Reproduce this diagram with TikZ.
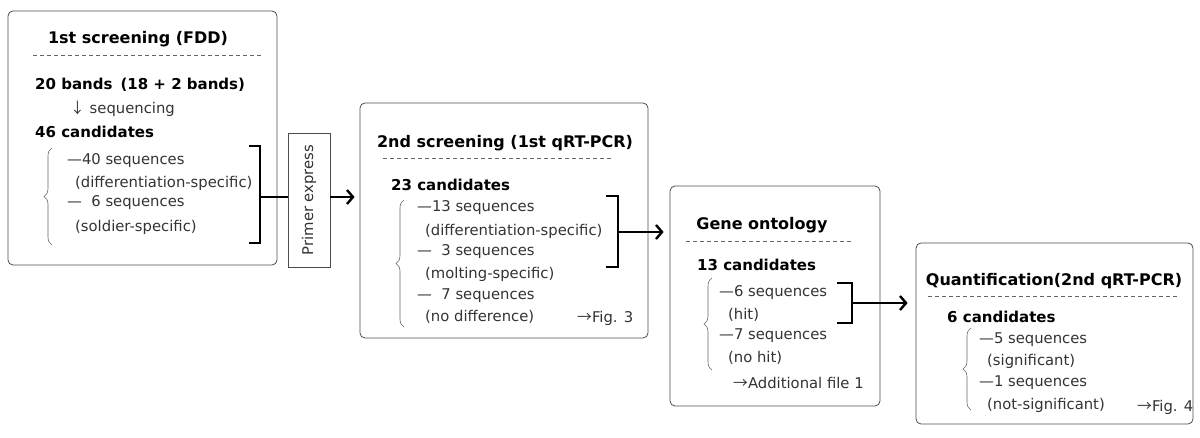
\documentclass[tikz,border=0pt]{standalone}
\usepackage{fontspec}
\setmainfont{DejaVu Sans}
\newfontfamily\cjk{Noto Sans CJK JP}
\usetikzlibrary{arrows.meta,decorations.pathreplacing}

\begin{document}
\begin{tikzpicture}[x=1pt,y=-1pt,
	panel/.style={draw=black!70,line width=0.8pt,rounded corners=5pt,inner sep=0pt},
	head/.style={inner sep=0pt,font=\fontsize{16}{19}\selectfont\bfseries},
	count/.style={anchor=west,inner sep=0pt,font=\fontsize{15}{18}\selectfont\bfseries},
	item/.style={anchor=west,inner sep=0pt,text=black!80,font=\fontsize{14.8}{17}\selectfont},
	rule/.style={draw=black!60,line width=0.9pt,dash pattern=on 4pt off 3pt},
	curly/.style={draw=black!60,line width=0.6pt,decorate,decoration={brace,amplitude=8pt}},
	bracket/.style={line width=2.4pt},
	flow/.style={line width=2.4pt,-{Straight Barb[length=6pt,width=14pt]}}]
\useasboundingbox (0,0) rectangle (1200,438);

% 1st screening
\node[panel,minimum width=269pt,minimum height=254pt] (b1) at (142.5,138) {};
\node[head] (h1) at (138,39) {1st screening (FDD)};
\draw[rule] (33,55) -- (261,55);
\node[count] (n1) at (35,85) {20 bands\hspace{8pt}(18 + 2 bands)};
\node[item] (q1) at (70,109) {{\cjk ↓} sequencing};
\node[count] (c1) at (35,132) {46 candidates};
\node[item] (s1a) at (67,161) {—40 sequences};
\node[item] (s1b) at (75,183) {(differentiation-specific)};
\node[item] (s1c) at (67,203) {—\phantom{4}6 sequences};
\node[item] (s1d) at (75,227) {(soldier-specific)};
\draw[curly] (52,245) -- (52,148);
\draw[bracket] (249,146) -- (260,146) -- (260,243) -- (249,243);
\coordinate (k1) at (260,197);

% primer
\node[draw=black!70,line width=0.8pt,minimum width=42pt,minimum height=134pt,inner sep=0pt] (pr) at (309,200) {};
\node[item,anchor=center,rotate=90] (pt) at (pr.center) {Primer express};
\draw[line width=2.4pt] (k1) -- (k1 -| pr.west);

% 2nd screening
\node[panel,minimum width=288pt,minimum height=235pt] (b2) at (504,220.5) {};
\draw[flow,shorten >=5pt] (k1 -| pr.east) -- (k1 -| b2.west);
\node[head] (h2) at (505,143) {2nd screening (1st qRT-PCR)};
\draw[rule] (383,158) -- (614,158);
\node[count] (c2) at (391,185) {23 candidates};
\node[item] (s2a) at (417,208) {—13 sequences};
\node[item] (s2b) at (425,231) {(differentiation-specific)};
\node[item] (s2c) at (417,252) {—\phantom{1}3 sequences};
\node[item] (s2d) at (425,274) {(molting-specific)};
\node[item] (s2e) at (417,296) {—\phantom{1}7 sequences};
\node[item] (s2f) at (425,317) {(no difference)};
\node[item] (f2) at (577,318) {{\cjk →}Fig. 3};
\draw[curly] (404,327) -- (404,200);
\draw[bracket] (606,196) -- (618,196) -- (618,267) -- (606,267);
\coordinate (k2) at (618,232);

% gene ontology
\node[panel,minimum width=210pt,minimum height=220pt] (b3) at (775,296) {};
\draw[flow,shorten >=6pt] (k2) -- (k2 -| b3.west);
\node[head] (h3) at (762,225) {Gene ontology};
\draw[rule] (686,241) -- (854,241);
\node[count] (c3) at (697,265) {13 candidates};
\node[item] (s3a) at (719,293) {—6 sequences};
\node[item] (s3b) at (728,315) {(hit)};
\node[item] (s3c) at (719,336) {—7 sequences};
\node[item] (s3d) at (728,358) {(no hit)};
\node[item] (f3) at (733,383) {{\cjk →}Additional file 1};
\draw[curly] (712,370) -- (712,278);
\draw[bracket] (837,283) -- (852,283) -- (852,323) -- (837,323);
\coordinate (k3) at (852,303);

% quantification
\node[panel,minimum width=277pt,minimum height=181pt] (b4) at (1054.5,333.5) {};
\draw[flow,shorten >=8pt] (k3) -- (k3 -| b4.west);
\node[head] (h4) at (1054,281) {Quantification(2nd qRT-PCR)};
\draw[rule] (928,296) -- (1178,296);
\node[count] (c4) at (947,317) {6 candidates};
\node[item] (s4a) at (979,340) {—5 sequences};
\node[item] (s4b) at (987,361) {(significant)};
\node[item] (s4c) at (979,383) {—1 sequences};
\node[item] (s4d) at (987,405) {(not-significant)};
\node[item] (f4) at (1137,407) {{\cjk →}Fig. 4};
\draw[curly] (971,410) -- (971,328);
\end{tikzpicture}
\end{document}
